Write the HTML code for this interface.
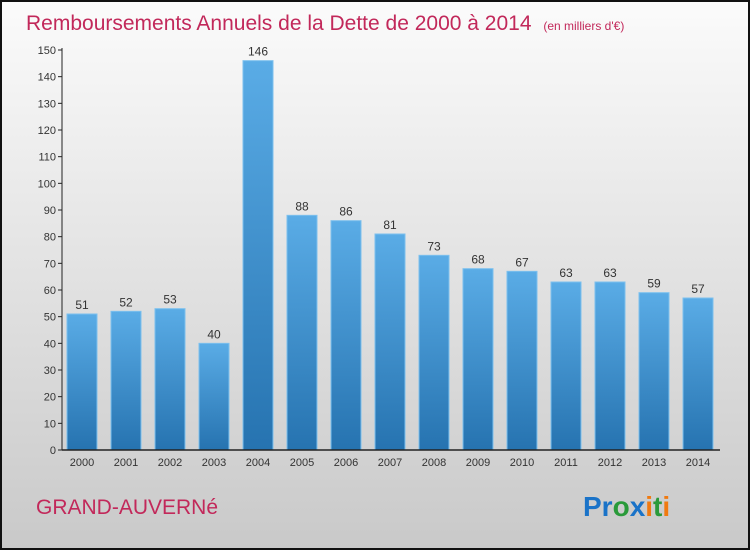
<!DOCTYPE html>
<html><head><meta charset="utf-8"><style>
body{margin:0;width:750px;height:550px;overflow:hidden;font-family:"Liberation Sans",sans-serif}
</style></head><body>
<svg id="chart" width="750" height="550" xmlns="http://www.w3.org/2000/svg">
<defs>
<linearGradient id="bg" x1="0" y1="0" x2="0" y2="1"><stop offset="0" stop-color="#fbfbfb"/><stop offset="1" stop-color="#c9c9c9"/></linearGradient>
<linearGradient id="bar" x1="0" y1="0" x2="0" y2="1"><stop offset="0" stop-color="#5aace6"/><stop offset="1" stop-color="#2673b0"/></linearGradient>
</defs>
<rect x="1" y="1" width="748" height="548" fill="url(#bg)" stroke="#111" stroke-width="2"/>
<text x="26" y="30" font-size="21" fill="#c2285a">Remboursements Annuels de la Dette de 2000 à 2014 <tspan font-size="12" dx="6">(en milliers d'€)</tspan></text>
<text x="36" y="514" font-size="21" fill="#c2285a">GRAND-AUVERNé</text>
<text x="583" y="516" font-size="28" font-weight="bold"><tspan fill="#1a73c8">Pr</tspan><tspan fill="#2a9a3a">o</tspan><tspan fill="#1a73c8">x</tspan><tspan fill="#f07a10">i</tspan><tspan fill="#2a9a3a">t</tspan><tspan fill="#f07a10">i</tspan></text>
<g id="plot"></g>
</svg>
<script>
const categories=["2000","2001","2002","2003","2004","2005","2006","2007","2008","2009","2010","2011","2012","2013","2014"];
const values=[51,52,53,40,146,88,86,81,73,68,67,63,63,59,57];
const yTicks=[0,10,20,30,40,50,60,70,80,90,100,110,120,130,140,150];
const NS="http://www.w3.org/2000/svg";
const g=document.getElementById('plot');
const y=v=>450-v*400/150;
const x=i=>82+i*44;
function mk(t,a){const e=document.createElementNS(NS,t);for(const k in a)e.setAttribute(k,a[k]);g.appendChild(e);return e;}
yTicks.forEach(t=>{
  const l=mk('line',{x1:58,x2:62,y1:y(t),y2:y(t),stroke:'#222'});
  
  
  const tx=mk('text',{x:56,y:y(t)+4,'font-size':11,'text-anchor':'end',fill:'#333'});tx.textContent=t;
  
  
});
categories.forEach((c,i)=>{
  const r=mk('rect',{x:x(i)-15,y:y(values[i]),width:30,height:450-y(values[i]),fill:'url(#bar)',stroke:'#7cc0ee','stroke-width':1});
  
  
  const v=mk('text',{x:x(i),y:y(values[i])-5,'font-size':12,'text-anchor':'middle',fill:'#333'});v.textContent=values[i];
  
  
  const tx=mk('text',{x:x(i),y:466,'font-size':11,'text-anchor':'middle',fill:'#333'});tx.textContent=c;
  
  
});
const ya=mk('line',{x1:62,x2:62,y1:48,y2:450,stroke:'#222'});


const xa=mk('line',{x1:62,x2:720,y1:450,y2:450,stroke:'#222','stroke-width':1.5});


</script>
</body></html>
